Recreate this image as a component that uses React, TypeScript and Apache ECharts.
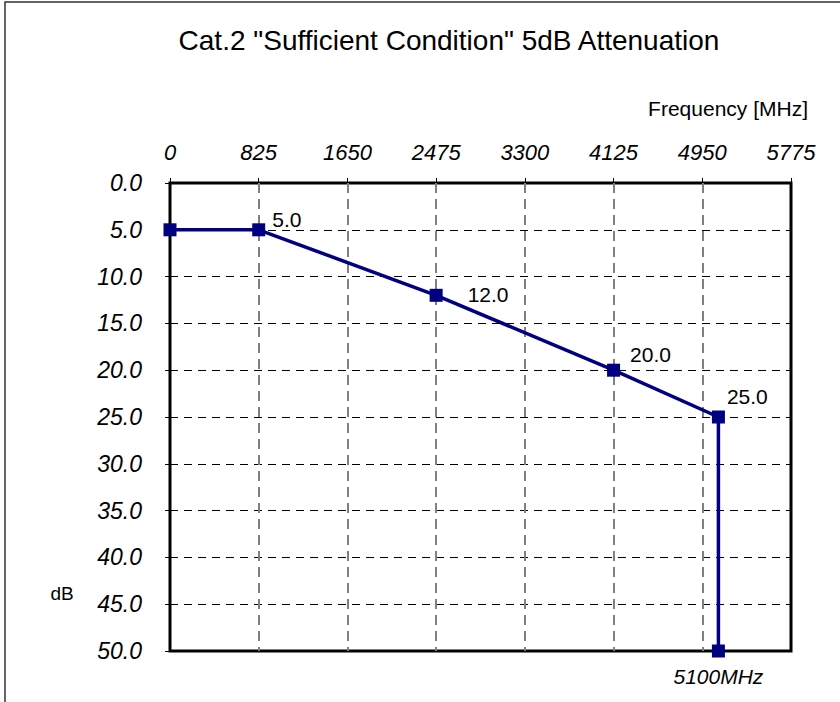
import React, { useEffect, useRef } from "react";
import * as echarts from "echarts";

const frequencies = [0, 825, 2475, 4125, 5100, 5100];
const attenuation = [5, 5, 12, 20, 25, 50];
const pointLabels = ["", "5.0", "12.0", "20.0", "25.0", "5100MHz"];
const labelOffsets: [number, number][] = [[0, 0], [2, -10], [20, -1], [5, -16], [-3, -21], [0, 0]];
const xTicks = [0, 825, 1650, 2475, 3300, 4125, 4950, 5775];
const yTicks = [0, 5, 10, 15, 20, 25, 30, 35, 40, 45, 50];

const FONT = "'Liberation Sans', Arial, sans-serif";

export default function App() {
  const ref = useRef<HTMLDivElement>(null);
  useEffect(() => {
    if (!ref.current) return;
    const chart = echarts.init(ref.current, undefined, { renderer: "svg" });
    const data = frequencies.map((f, i) => {
      const item: any = { value: [f, attenuation[i]] };
      if (i === 0) {
        item.label = { show: false };
      } else if (i === frequencies.length - 1) {
        item.label = {
          show: true,
          position: "bottom",
          distance: 8,
          fontStyle: "italic",
          formatter: pointLabels[i],
        };
      } else {
        item.label = {
          show: true,
          position: "right",
          offset: labelOffsets[i],
          formatter: pointLabels[i],
        };
      }
      return item;
    });
    chart.setOption({
      animation: false,
      backgroundColor: "#ffffff",
      grid: {
        left: 170,
        right: 49,
        top: 183,
        bottom: 51,
        show: true,
        borderColor: "#000000",
        borderWidth: 3,
        backgroundColor: "transparent",
      },
      graphic: [
        {
          type: "rect",
          shape: { x: 5, y: 2, width: 900, height: 800 },
          style: { fill: "none", stroke: "#333333", lineWidth: 1.5 },
          silent: true,
        },
        {
          type: "text",
          x: 449,
          y: 40,
          style: {
            text: 'Cat.2 "Sufficient Condition" 5dB Attenuation',
            font: `28px ${FONT}`,
            fill: "#000000",
            align: "center",
            verticalAlign: "middle",
          },
        },
        {
          type: "text",
          x: 808,
          y: 108,
          style: {
            text: "Frequency [MHz]",
            font: `21px ${FONT}`,
            fill: "#000000",
            align: "right",
            verticalAlign: "middle",
          },
        },
        {
          type: "text",
          x: 62,
          y: 593,
          style: {
            text: "dB",
            font: `19px ${FONT}`,
            fill: "#000000",
            align: "center",
            verticalAlign: "middle",
          },
        },
      ],
      xAxis: {
        type: "value",
        position: "top",
        min: xTicks[0],
        max: xTicks[xTicks.length - 1],
        interval: 825,
        axisLine: { show: false },
        axisTick: { show: true, inside: false, length: 5, lineStyle: { color: "#000", width: 1 } },
        axisLabel: {
          margin: 20,
          color: "#000",
          fontSize: 22,
          fontStyle: "italic",
          fontFamily: FONT,
          formatter: (v: number) => String(v),
        },
        splitLine: {
          show: true,
          showMinLine: false,
          showMaxLine: false,
          lineStyle: { color: "#808080", width: 2, type: [10, 6] },
        },
      },
      yAxis: {
        type: "value",
        inverse: true,
        min: yTicks[0],
        max: yTicks[yTicks.length - 1],
        interval: 5,
        axisLine: { show: false },
        axisTick: { show: true, inside: false, length: 5, lineStyle: { color: "#000", width: 1 } },
        axisLabel: {
          margin: 28,
          color: "#000",
          fontSize: 23,
          fontStyle: "italic",
          fontFamily: FONT,
          formatter: (v: number) => v.toFixed(1),
        },
        splitLine: {
          show: true,
          showMinLine: false,
          showMaxLine: false,
          lineStyle: { color: "#000000", width: 1, type: [8, 6] },
        },
      },
      series: [
        {
          type: "line",
          data,
          clip: false,
          symbol: "rect",
          symbolSize: 13,
          itemStyle: { color: "#000080" },
          lineStyle: { color: "#000080", width: 3.5 },
          label: {
            color: "#000",
            fontSize: 21,
            fontFamily: FONT,
          },
          z: 5,
        },
      ],
    });
    return () => chart.dispose();
  }, []);
  return (
    <div
      ref={ref}
      style={{ position: "fixed", left: 0, top: 0, width: 840, height: 702 }}
    />
  );
}
